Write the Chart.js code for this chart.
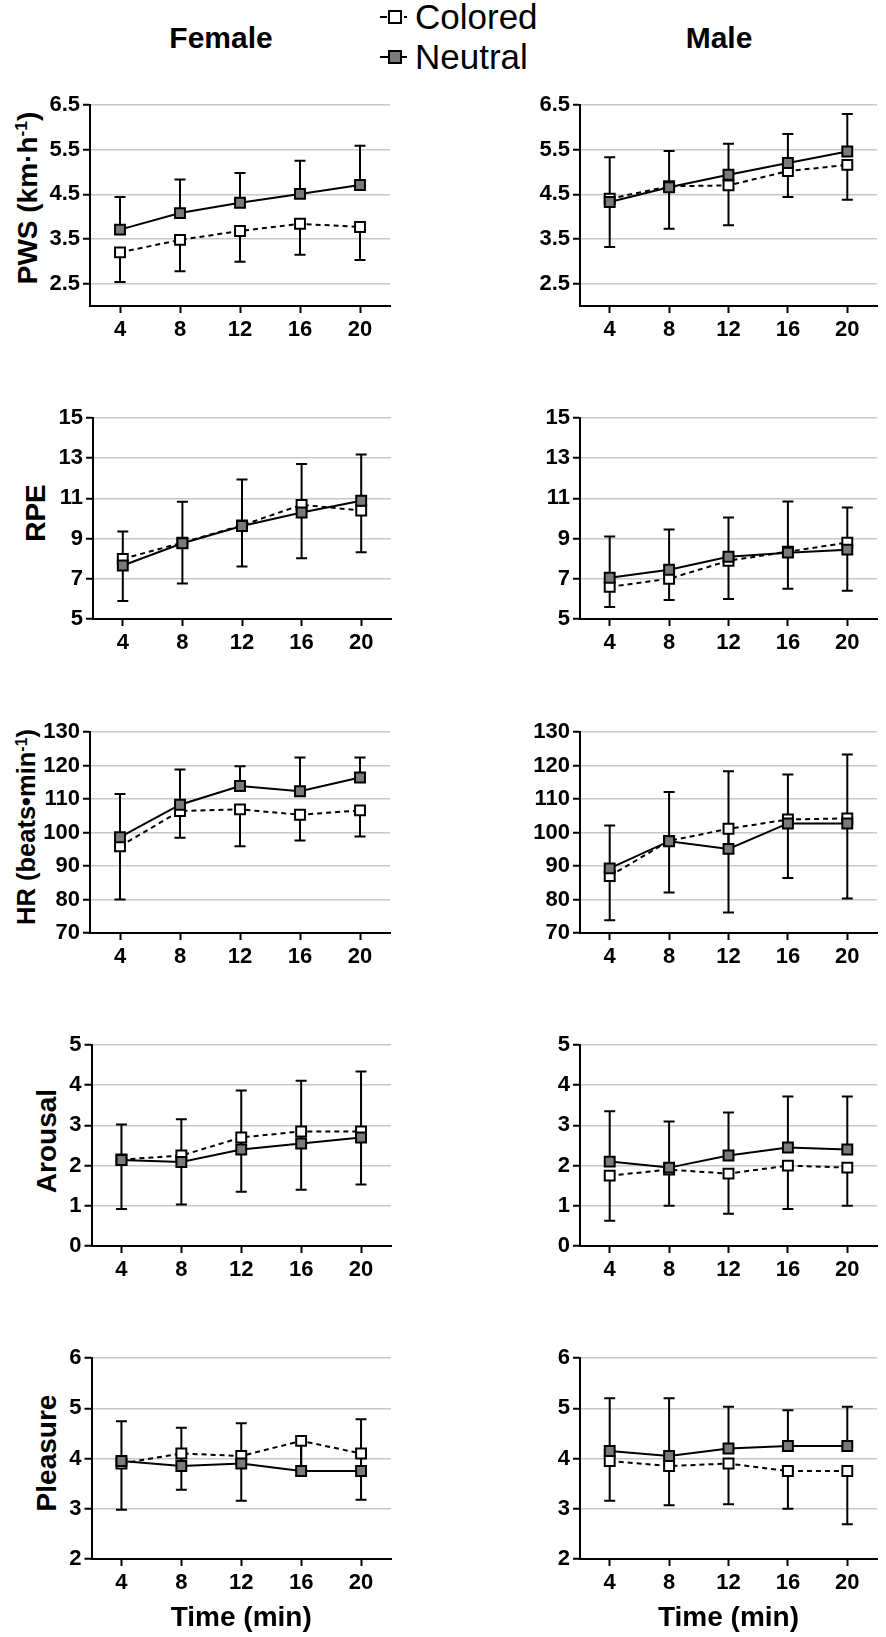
<!DOCTYPE html>
<html>
<head>
<meta charset="utf-8">
<script src="https://cdn.jsdelivr.net/npm/chart.js@4.4.1/dist/chart.umd.min.js"></script>
<style>
  body { margin: 0; background: #fff; font-family: 'Liberation Sans', Arial, sans-serif; }
  #page { position: relative; width: 886px; height: 1637px; overflow: hidden; }
  .panel { position: absolute; }
  .head { position: absolute; font-size: 30px; font-weight: bold; transform: translate(-50%, -50%); }
  .ytitle { position: absolute; font-size: 28px; font-weight: bold; white-space: nowrap; line-height: 1.15;
            transform: translate(-50%, -50%) rotate(-90deg); }
  .ytitle sup { font-size: 0.62em; line-height: 1; vertical-align: 0.55em; }
  .legend-row { position: absolute; left: 380px; height: 40px; display: flex; align-items: center; font-size: 35px; transform: translateY(-50%); }
  .sym { position: relative; width: 27px; height: 40px; margin-right: 8px; }
  .sym .ln { position: absolute; top: 19px; height: 2px; background: #000; }
  .sym .sq { position: absolute; left: 8px; top: 13px; width: 10px; height: 10px; border: 2px solid #000; }
</style>
</head>
<body>
<div id="page">
  <div class="head" style="left:221px; top:38px;">Female</div>
  <div class="head" style="left:719px; top:38px;">Male</div>

  <div class="legend-row" style="top:17px;">
    <div class="sym">
      <div class="ln" style="left:0; width:7px;"></div>
      <div class="sq" style="background:#fff;"></div>
      <div class="ln" style="left:24px; width:3px;"></div>
    </div>
    <span>Colored</span>
  </div>
  <div class="legend-row" style="top:57px;">
    <div class="sym">
      <div class="ln" style="left:0; width:27px;"></div>
      <div class="sq" style="background:#7a7a7a;"></div>
    </div>
    <span>Neutral</span>
  </div>

  <div class="ytitle" style="left:28px; top:198px;">PWS (km·h<sup>-1</sup>)</div>
  <div class="ytitle" style="left:36px; top:513px;">RPE</div>
  <div class="ytitle" style="left:27px; top:827px; font-size:25.5px;">HR (beats•min<sup>-1</sup>)</div>
  <div class="ytitle" style="left:47px; top:1141px;">Arousal</div>
  <div class="ytitle" style="left:47px; top:1453px;">Pleasure</div>
</div>

<script>
// 측정 시점 (min)
const times = [4, 8, 12, 16, 20];
const timeTicks = [4, 8, 12, 16, 20];

// y축 눈금
const pwsTicks = [2.5, 3.5, 4.5, 5.5, 6.5];
const rpeTicks = [5, 7, 9, 11, 13, 15];
const hrTicks = [70, 80, 90, 100, 110, 120, 130];
const arousalTicks = [0, 1, 2, 3, 4, 5];
const pleasureTicks = [2, 3, 4, 5, 6];

// PWS
const femalePwsNeutral = [3.71, 4.08, 4.31, 4.51, 4.71];
const femalePwsNeutralHi = [4.44, 4.83, 4.98, 5.25, 5.59];
const femalePwsColored = [3.20, 3.48, 3.68, 3.84, 3.77];
const femalePwsColoredLo = [2.54, 2.78, 2.99, 3.15, 3.03];
const malePwsNeutral = [4.33, 4.66, 4.94, 5.20, 5.46];
const malePwsNeutralHi = [5.33, 5.47, 5.63, 5.85, 6.30];
const malePwsColored = [4.40, 4.68, 4.70, 5.02, 5.16];
const malePwsColoredLo = [3.32, 3.73, 3.81, 4.44, 4.38];

// RPE
const femaleRpeNeutral = [7.66, 8.77, 9.63, 10.30, 10.88];
const femaleRpeNeutralHi = [9.35, 10.83, 11.94, 12.71, 13.19];
const femaleRpeColored = [7.99, 8.80, 9.66, 10.68, 10.40];
const femaleRpeColoredLo = [5.90, 6.76, 7.61, 8.02, 8.32];
const maleRpeNeutral = [7.05, 7.45, 8.10, 8.30, 8.45];
const maleRpeNeutralHi = [9.10, 9.45, 10.05, 10.85, 10.55];
const maleRpeColored = [6.60, 7.00, 7.90, 8.35, 8.80];
const maleRpeColoredLo = [5.60, 5.95, 6.00, 6.50, 6.40];

// HR
const femaleHrNeutral = [98.6, 108.3, 113.9, 112.3, 116.4];
const femaleHrNeutralHi = [111.5, 118.8, 119.8, 122.4, 122.4];
const femaleHrColored = [95.9, 106.4, 106.9, 105.3, 106.6];
const femaleHrColoredLo = [80.0, 98.4, 95.9, 97.6, 98.8];
const maleHrNeutral = [89.3, 97.4, 95.1, 102.7, 102.7];
const maleHrNeutralHi = [102.1, 112.1, 118.3, 117.3, 123.3];
const maleHrColored = [87.0, 97.5, 101.1, 103.9, 104.2];
const maleHrColoredLo = [73.8, 82.1, 76.1, 86.4, 80.3];

// Arousal
const femaleArousalNeutral = [2.14, 2.09, 2.40, 2.55, 2.70];
const femaleArousalNeutralHi = [3.02, 3.15, 3.87, 4.11, 4.34];
const femaleArousalColored = [2.15, 2.25, 2.70, 2.85, 2.85];
const femaleArousalColoredLo = [0.92, 1.03, 1.35, 1.40, 1.53];
const maleArousalNeutral = [2.10, 1.95, 2.25, 2.45, 2.40];
const maleArousalNeutralHi = [3.35, 3.10, 3.32, 3.72, 3.72];
const maleArousalColored = [1.75, 1.90, 1.80, 2.00, 1.95];
const maleArousalColoredLo = [0.63, 1.00, 0.80, 0.92, 1.00];

// Pleasure
const femalePleasureNeutral = [3.95, 3.85, 3.90, 3.75, 3.75];
const femalePleasureNeutralHi = [4.74, 4.61, 4.70, 4.33, 4.78];
const femalePleasureColored = [3.90, 4.10, 4.05, 4.35, 4.10];
const femalePleasureColoredLo = [2.98, 3.38, 3.16, 3.77, 3.18];
const malePleasureNeutral = [4.15, 4.05, 4.20, 4.25, 4.25];
const malePleasureNeutralHi = [5.20, 5.20, 5.03, 4.96, 5.03];
const malePleasureColored = [3.95, 3.85, 3.90, 3.75, 3.75];
const malePleasureColoredLo = [3.16, 3.07, 3.09, 3.00, 2.69];

const rows = [
  { min: 2, max: 6.5, ticks: pwsTicks,
    female: [femalePwsNeutral, femalePwsNeutralHi, femalePwsColored, femalePwsColoredLo],
    male: [malePwsNeutral, malePwsNeutralHi, malePwsColored, malePwsColoredLo] },
  { min: 5, max: 15, ticks: rpeTicks,
    female: [femaleRpeNeutral, femaleRpeNeutralHi, femaleRpeColored, femaleRpeColoredLo],
    male: [maleRpeNeutral, maleRpeNeutralHi, maleRpeColored, maleRpeColoredLo] },
  { min: 70, max: 130, ticks: hrTicks,
    female: [femaleHrNeutral, femaleHrNeutralHi, femaleHrColored, femaleHrColoredLo],
    male: [maleHrNeutral, maleHrNeutralHi, maleHrColored, maleHrColoredLo] },
  { min: 0, max: 5, ticks: arousalTicks,
    female: [femaleArousalNeutral, femaleArousalNeutralHi, femaleArousalColored, femaleArousalColoredLo],
    male: [maleArousalNeutral, maleArousalNeutralHi, maleArousalColored, maleArousalColoredLo] },
  { min: 2, max: 6, ticks: pleasureTicks,
    female: [femalePleasureNeutral, femalePleasureNeutralHi, femalePleasureColored, femalePleasureColoredLo],
    male: [malePleasureNeutral, malePleasureNeutralHi, malePleasureColored, malePleasureColoredLo] },
];

// 배치 (px)
const rowTop = [105, 418, 731.5, 1044.5, 1357.5];
const femaleAxisX = [90, 93, 90, 91.5, 91.5];
const plotW = 300;
const plotH = 201;
const padTop = 20;

const FONT = "'Liberation Sans', Arial, sans-serif";
const tickFont = { family: FONT, size: 22, weight: 'bold' };
const titleFont = { family: FONT, size: 28, weight: 'bold' };

// 한쪽 방향 오차막대
const errorBarPlugin = {
  id: 'errorBars',
  beforeDatasetsDraw(chart) {
    const { ctx } = chart;
    const x = chart.scales.x;
    const y = chart.scales.y;
    ctx.save();
    ctx.strokeStyle = '#000';
    ctx.lineWidth = 2;
    chart.data.datasets.forEach((ds) => {
      ds.data.forEach((pt, i) => {
        const end = ds.errorEnds[i];
        if (end == null) return;
        const px = x.getPixelForValue(pt.x);
        const py = y.getPixelForValue(pt.y);
        const pe = y.getPixelForValue(end);
        ctx.beginPath();
        ctx.moveTo(px, py);
        ctx.lineTo(px, pe);
        ctx.moveTo(px - 5.5, pe);
        ctx.lineTo(px + 5.5, pe);
        ctx.stroke();
      });
    });
    ctx.restore();
  },
};

function makePanel(row, rowIndex, side) {
  const isFemale = side === 'female';
  const isBottom = rowIndex === rows.length - 1;
  const [neutral, neutralHi, colored, coloredLo] = row[side];

  const canvasLeft = isFemale ? 0 : 480;
  const canvasW = isFemale ? 400 : 406;
  const axisX = isFemale ? femaleAxisX[rowIndex] : 100;
  const xAxisH = isBottom ? 90 : 40;
  const canvasH = padTop + plotH + xAxisH;

  const wrap = document.createElement('div');
  wrap.className = 'panel';
  wrap.style.left = canvasLeft + 'px';
  wrap.style.top = rowTop[rowIndex] - padTop + 'px';
  const canvas = document.createElement('canvas');
  canvas.width = canvasW;
  canvas.height = canvasH;
  wrap.appendChild(canvas);
  document.getElementById('page').appendChild(wrap);

  const datasets = [
    {
      label: 'Neutral',
      data: times.map((t, i) => ({ x: t, y: neutral[i] })),
      errorEnds: neutralHi,
      borderColor: '#000',
      borderWidth: 2,
      pointStyle: 'rect',
      pointRadius: 7,
      pointBackgroundColor: '#7a7a7a',
      pointBorderColor: '#000',
      pointBorderWidth: 2,
    },
    {
      label: 'Colored',
      data: times.map((t, i) => ({ x: t, y: colored[i] })),
      errorEnds: coloredLo,
      borderColor: '#000',
      borderWidth: 2,
      borderDash: [5, 4],
      pointStyle: 'rect',
      pointRadius: 7,
      pointBackgroundColor: '#fff',
      pointBorderColor: '#000',
      pointBorderWidth: 2,
    },
  ];

  new Chart(canvas.getContext('2d'), {
    type: 'line',
    data: { datasets },
    plugins: [errorBarPlugin],
    options: {
      responsive: false,
      animation: false,
      events: [],
      layout: { padding: { top: padTop, left: 0, bottom: 0, right: canvasW - axisX - plotW } },
      plugins: {
        legend: { display: false },
        tooltip: { enabled: false },
      },
      scales: {
        x: {
          type: 'linear',
          min: 2,
          max: 22,
          afterBuildTicks: (s) => { s.ticks = timeTicks.map((v) => ({ value: v })); },
          afterFit: (s) => { s.height = xAxisH; },
          grid: { drawOnChartArea: false, tickLength: 7, tickColor: '#000', tickWidth: 2 },
          border: { color: '#000', width: 2 },
          ticks: { color: '#000', font: tickFont, padding: 4, maxRotation: 0, autoSkip: false, callback: (v) => String(v) },
          title: { display: isBottom, text: 'Time (min)', color: '#000', font: titleFont, padding: { top: 0, bottom: 14 } },
        },
        y: {
          min: row.min,
          max: row.max,
          afterBuildTicks: (s) => { s.ticks = row.ticks.map((v) => ({ value: v })); },
          afterFit: (s) => { s.width = axisX; },
          grid: { color: '#c8c8c8', lineWidth: 1.5, tickLength: 7, tickColor: '#000', tickWidth: 2 },
          border: { color: '#000', width: 2 },
          ticks: { color: '#000', font: tickFont, padding: 3, callback: (v) => String(v) },
          title: { display: false },
        },
      },
    },
  });
}

rows.forEach((row, i) => {
  makePanel(row, i, 'female');
  makePanel(row, i, 'male');
});
</script>
</body>
</html>
